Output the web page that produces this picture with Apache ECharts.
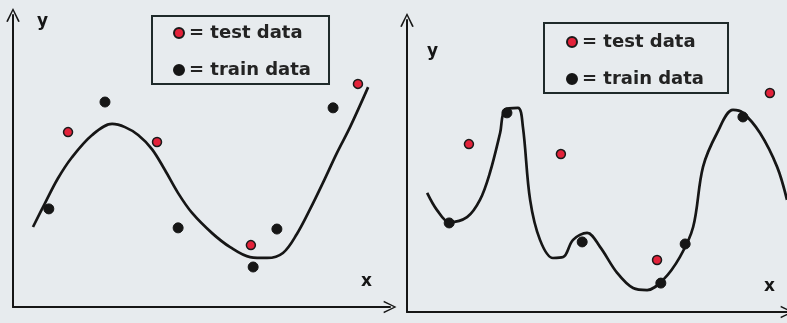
<!DOCTYPE html>
<html>
<head>
<meta charset="utf-8">
<script src="https://cdn.jsdelivr.net/npm/echarts@6/dist/echarts.min.js"></script>
<style>
html,body{margin:0;padding:0;background:#e7ebee;}
#c{width:787px;height:323px;}
</style>
</head>
<body>
<div id="c"></div>
<script>
// ---- data (abstract units 0..10 on both axes) ----
const leftTestX  = [1.46, 3.82, 6.31, 9.15];
const leftTestY  = [5.99, 5.65, 2.12, 7.64];
const leftTrainX = [0.95, 2.44, 4.38, 6.37, 7.00, 8.49];
const leftTrainY = [3.36, 7.02, 2.71, 1.37, 2.67, 6.82];
const leftFitX = [0.53,0.85,1.19,1.56,2.10,2.63,2.97,3.32,3.69,4.03,4.38,4.75,5.28,5.76,6.29,6.74,7.16,7.53,7.88,8.22,8.59,8.94,9.42];
const leftFitY = [2.74,3.56,4.40,5.12,5.89,6.27,6.16,5.89,5.40,4.69,3.90,3.22,2.53,2.05,1.71,1.68,1.85,2.50,3.35,4.25,5.27,6.16,7.53];

const rightTestX  = [1.63, 4.05, 6.58, 9.55];
const rightTestY  = [5.75, 5.41, 1.78, 7.50];
const rightTrainX = [1.11, 2.63, 4.61, 6.68, 7.32, 8.84];
const rightTrainY = [3.05, 6.82, 2.40, 0.99, 2.33, 6.68];
const rightFitX = [0.53,0.79,1.11,1.58,1.92,2.18,2.45,2.58,2.92,3.05,3.24,3.50,3.84,4.11,4.37,4.74,5.08,5.53,5.95,6.32,6.74,7.18,7.53,7.79,8.16,8.58,8.84,9.29,9.74,10.0];
const rightFitY = [4.08,3.49,3.08,3.25,3.84,4.76,6.13,6.92,6.99,6.34,3.84,2.47,1.85,1.88,2.47,2.71,2.23,1.34,0.82,0.75,1.10,1.88,2.91,4.97,6.13,6.92,6.82,6.13,4.97,3.84];

const seriesNames = ['test data', 'train data'];
const axisNames = { x: 'x', y: 'y' };

const zip = (xs, ys) => xs.map((v, i) => [v, ys[i]]);

const INK = '#161616';
const FONT = 'DejaVu Sans';
const arrowPath = 'path://M0,10 L5,0 L10,10 L8.8,10.3 L5,2.2 L1.2,10.3 Z';

function axisX(gridIndex, nameGap) {
  return {
    type: 'value', gridIndex, min: 0, max: 10,
    axisLine: { show: true, onZero: false, lineStyle: { color: INK, width: 2 },
      symbol: ['none', arrowPath], symbolSize: [24, 13], symbolOffset: [0, 0] },
    axisTick: { show: false }, axisLabel: { show: false }, splitLine: { show: false },
    name: axisNames.x, nameLocation: 'end', nameGap: nameGap,
    nameTextStyle: { color: INK, fontFamily: FONT, fontWeight: 'bold', fontSize: 17,
      align: 'right', verticalAlign: 'bottom', padding: [0, 0, 17, 0] }
  };
}
function axisY(gridIndex, nameGap, padLeft) {
  return {
    type: 'value', gridIndex, min: 0, max: 10,
    axisLine: { show: true, onZero: false, lineStyle: { color: INK, width: 2 },
      symbol: ['none', arrowPath], symbolSize: [18, 14], symbolOffset: [0, 0] },
    axisTick: { show: false }, axisLabel: { show: false }, splitLine: { show: false },
    name: axisNames.y, nameLocation: 'end', nameGap: nameGap,
    nameTextStyle: { color: INK, fontFamily: FONT, fontWeight: 'bold', fontSize: 17,
      align: 'left', verticalAlign: 'middle', padding: [0, 0, 0, padLeft] }
  };
}
function legend(left, top, padding) {
  return {
    data: seriesNames, orient: 'vertical', left, top, padding,
    itemWidth: 10, itemHeight: 10, itemGap: 17, icon: 'circle',
    borderColor: '#1f2a2a', borderWidth: 2, backgroundColor: 'transparent',
    formatter: n => '= ' + n, selectedMode: false,
    textStyle: { color: '#232323', fontFamily: FONT, fontWeight: 'bold', fontSize: 18, lineHeight: 20 }
  };
}
const testStyle = { color: '#e3223a', borderColor: '#1a1a1a', borderWidth: 1.5, opacity: 1 };
const trainStyle = { color: '#161616', borderColor: '#161616', borderWidth: 1, opacity: 1 };

function panelSeries(idx, smooth, fitX, fitY, testX, testY, trainX, trainY) {
  return [
    { type: 'line', name: 'fit', xAxisIndex: idx, yAxisIndex: idx, data: zip(fitX, fitY),
      smooth: smooth, showSymbol: false, lineStyle: { color: INK, width: 2.7 }, z: 2, silent: true },
    { type: 'scatter', name: seriesNames[0], xAxisIndex: idx, yAxisIndex: idx,
      data: zip(testX, testY), symbolSize: 9, itemStyle: testStyle, z: 3 },
    { type: 'scatter', name: seriesNames[1], xAxisIndex: idx, yAxisIndex: idx,
      data: zip(trainX, trainY), symbolSize: 10, itemStyle: trainStyle, z: 3 }
  ];
}

const chart = echarts.init(document.getElementById('c'), null, { renderer: 'canvas' });
chart.setOption({
  backgroundColor: '#e7ebee',
  animation: false,
  grid: [
    { left: 13, top: 15, width: 377, height: 292 },
    { left: 407, top: 20, width: 380, height: 292 }
  ],
  xAxis: [axisX(0, -18), axisX(1, -12)],
  yAxis: [axisY(0, -7, 24), axisY(1, -32, 20)],
  legend: [
    legend(152, 16, [7, 18, 4, 21]),
    legend(544, 23, [9, 24, 4, 22])
  ],
  series: [
    ...panelSeries(0, 0.35, leftFitX, leftFitY, leftTestX, leftTestY, leftTrainX, leftTrainY),
    ...panelSeries(1, 0.35, rightFitX, rightFitY, rightTestX, rightTestY, rightTrainX, rightTrainY)
  ]
});
</script>
</body>
</html>
